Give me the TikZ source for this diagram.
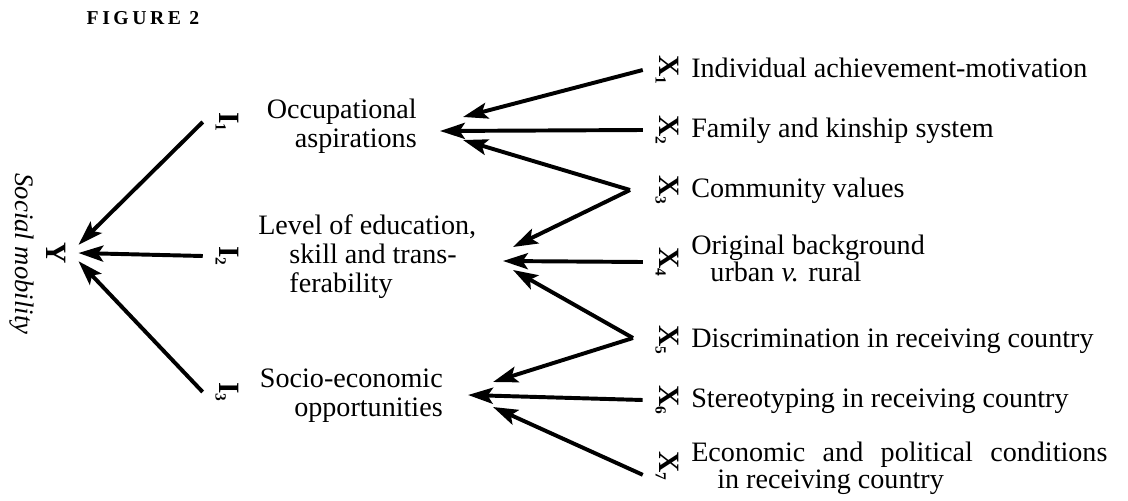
\documentclass[tikz,border=0pt]{standalone}
\usepackage{fontspec}
\setmainfont{Liberation Serif}
\usetikzlibrary{arrows.meta}
\newcommand{\rotlab}[2]{\rotatebox{-90}{#1\raisebox{-0.12em}{\fontsize{11}{11}\selectfont #2}}}

\begin{document}
\begin{tikzpicture}[x=0.025cm, y=-0.025cm,
  font=\fontsize{20}{20.6}\selectfont,
  >={Stealth[length=0.62cm,width=0.4cm,inset=0.13cm]},
  arr/.style={->, line width=2.8pt},
  var/.style={inner sep=0pt, outer sep=0.32cm, font=\fontsize{21}{21}\selectfont\bfseries},
  lab/.style={inner sep=0pt}]
\useasboundingbox (0,0) rectangle (1128,500);

\node[lab, font=\fontsize{14}{14}\selectfont\bfseries\addfontfeature{LetterSpace=18}] (title) at (143,18) {FIGURE 2};

% outcome
\node[lab, rotate=-90, font=\fontsize{19}{19}\selectfont\itshape] (mob) at (22,254) {Social mobility};
\node[var] (y) at (56,253) {\rotatebox{-90}{Y}};

% intervening variables
\node[var] (i1) at (227,122) {\rotlab{I}{1}};
\node[var] (i2) at (227,256) {\rotlab{I}{2}};
\node[var] (i3) at (227,392) {\rotlab{I}{3}};
\node[lab, anchor=east, align=right] (occ) at (417,126) {Occupational\\aspirations};
\node[lab, anchor=west, align=left] (edu) at (258,257) {Level of education,\\\hspace*{0.78cm}skill and trans-\\\hspace*{0.78cm}ferability};
\node[lab, anchor=east, align=right] (soc) at (443,396) {Socio-economic\\opportunities};

% independent variables
\node[var] (x1) at (667,70) {\rotlab{X}{1}};
\node[var] (x2) at (667,130) {\rotlab{X}{2}};
\node[var] (x3) at (667,190) {\rotlab{X}{3}};
\node[var] (x4) at (667,262) {\rotlab{X}{4}};
\node[var] (x5) at (667,340) {\rotlab{X}{5}};
\node[var] (x6) at (667,400) {\rotlab{X}{6}};
\node[var] (x7) at (667,466) {\rotlab{X}{7}};
\node[lab, anchor=base west] (t1) at (691,77) {Individual achievement-motivation};
\node[lab, anchor=base west] (t2) at (691,137) {Family and kinship system};
\node[lab, anchor=base west] (t3) at (691,197) {Community values};
\node[lab, anchor=west, align=left, font=\fontsize{20}{16.3}\selectfont] (t4) at (691,258) {Original background\\\hspace*{0.48cm}urban \emph{v.} rural};
\node[lab, anchor=base west] (t5) at (691,347) {Discrimination in receiving country};
\node[lab, anchor=base west] (t6) at (691,407) {Stereotyping in receiving country};
\node[lab, anchor=west, align=left, font=\fontsize{20}{19}\selectfont] (t7) at (691,468) {\makebox[10.4cm][s]{Economic and political conditions}\\\hspace*{0.65cm}in receiving country};

% arrow ends
\coordinate (v3) at (630,190);
\coordinate (v5) at (633,338);
\coordinate (occ-a) at (463,117);
\coordinate (occ-b) at (440,131);
\coordinate (occ-c) at (463,140);
\coordinate (edu-a) at (513,247);
\coordinate (edu-b) at (503,261);
\coordinate (edu-c) at (513,270);
\coordinate (soc-a) at (493,382);
\coordinate (soc-b) at (468,395);
\coordinate (soc-c) at (493,407);

\draw[arr] (x1.west) -- (occ-a);
\draw[arr] (x2.west) -- (occ-b);
\draw[arr] (v3) -- (occ-c);
\draw[arr] (v3) -- (edu-a);
\draw[arr] (x4.west) -- (edu-b);
\draw[arr] (v5) -- (edu-c);
\draw[arr] (v5) -- (soc-a);
\draw[arr] (x6.west) -- (soc-b);
\draw[arr] (x7.200) -- (soc-c);

\draw[arr] (i1.west) -- (y.20);
\draw[arr] (i2.west) -- (y.east);
\draw[arr] (i3.west) -- (y.-20);
\end{tikzpicture}
\end{document}
